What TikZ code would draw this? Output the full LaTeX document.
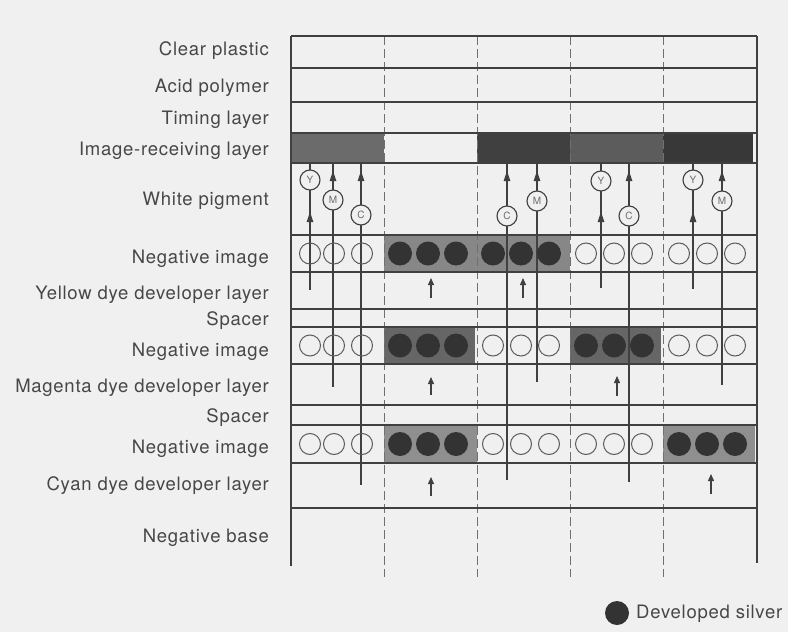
\documentclass[tikz,border=0pt]{standalone}
\usepackage{fontspec}
\setmainfont[LetterSpace=4]{TeX Gyre Heros}
\usetikzlibrary{arrows.meta}
\definecolor{paper}{gray}{0.94}
\definecolor{ink}{gray}{0.25}
\definecolor{txt}{gray}{0.28}
\definecolor{silvc}{gray}{0.2}
\definecolor{irlA}{gray}{0.42}
\definecolor{irlB}{gray}{0.25}
\definecolor{irlC}{gray}{0.36}
\definecolor{irlD}{gray}{0.22}
\definecolor{shA}{gray}{0.53}
\definecolor{shB}{gray}{0.40}
\definecolor{shC}{gray}{0.56}
\begin{document}
\begin{tikzpicture}[x=1pt,y=-1pt,
  lab/.style={anchor=base east, text=txt, font=\fontsize{18.5}{20}\selectfont, inner sep=0pt},
  layerline/.style={draw=ink, line width=1.1pt},
  coldiv/.style={draw=ink!75, line width=0.9pt, dash pattern=on 9pt off 4pt},
  hole/.style={circle, draw=ink!85, line width=1pt, minimum size=21pt, inner sep=0pt},
  silver/.style={circle, fill=silvc, minimum size=24pt, inner sep=0pt},
  dye/.style={circle, draw=ink, line width=1.1pt, fill=paper, minimum size=20pt, inner sep=0pt, text=txt!80, font=\fontsize{10}{10}\selectfont},
  mig/.style={draw=ink, line width=1.2pt},
  tipar/.style={-{Triangle[length=10pt,width=6.5pt]}, draw=ink, line width=1.2pt},
  smallar/.style={-{Triangle[length=7pt,width=6pt]}, draw=ink, line width=1.3pt},
]
\fill[paper] (0,0) rectangle (788,632);
\useasboundingbox (0,0) rectangle (788,632);

% labels
\node[lab] (l1) at (269,55) {Clear plastic};
\node[lab] (l2) at (269,92) {Acid polymer};
\node[lab] (l3) at (269,124) {Timing layer};
\node[lab] (l4) at (269,155) {Image-receiving layer};
\node[lab] (l5) at (269,205.5) {White pigment};
\node[lab] (l6) at (269,263) {Negative image};
\node[lab] (l7) at (269,299.5) {Yellow dye developer layer};
\node[lab] (l8) at (269,325) {Spacer};
\node[lab] (l9) at (269,356) {Negative image};
\node[lab] (l10) at (269,392) {Magenta dye developer layer};
\node[lab] (l11) at (269,422) {Spacer};
\node[lab] (l12) at (269,453) {Negative image};
\node[lab] (l13) at (269,490) {Cyan dye developer layer};
\node[lab] (l14) at (269,542) {Negative base};

% image-receiving layer fills
\fill[irlA] (291,133) rectangle (384,163);
\fill[irlB] (477,133) rectangle (570,163);
\fill[irlC] (570,133) rectangle (663,163);
\fill[irlD] (663,133) rectangle (753,163);

% negative image shading
\fill[shA] (384,235) rectangle (570,272);
\fill[shB] (384,327) rectangle (475,364);
\fill[shB] (570,327) rectangle (661,364);
\fill[shC] (384,425) rectangle (477,463);
\fill[shC] (663,425) rectangle (755,463);

% column dividers
\foreach \x in {384,477,570,663} \draw[coldiv] (\x,36) -- (\x,577);

% layer boundaries
\foreach \y in {36,68,102,133,163,235,272,309,327,364,405,425,463,508}
  \draw[layerline] (291,\y) -- (757,\y);
\draw[layerline] (291,36) -- (291,566);
\draw[layerline] (757,36) -- (757,563);

% migration lines (drawn before circles)
\foreach \x/\cy/\ey in {333/200/387, 361/215/485, 507/216/480, 537/201/382, 629/216/482, 722/201/385} {
  \draw[mig] (\x,163) -- (\x,\ey);
  \draw[tipar] (\x,184) -- (\x,171);
}
\foreach \x/\ey in {310/290, 601/288, 693/289} {
  \draw[mig] (\x,163) -- (\x,\ey);
  \draw[tipar] (\x,226) -- (\x,212);
}

% dye molecules
\node[dye] (y1) at (310,180) {Y};
\node[dye] (m1) at (333,200) {M};
\node[dye] (c1) at (361,215) {C};
\node[dye] (c3) at (507,216) {C};
\node[dye] (m3) at (537,201) {M};
\node[dye] (y4) at (601,181) {Y};
\node[dye] (c4) at (629,216) {C};
\node[dye] (y5) at (693,180) {Y};
\node[dye] (m5) at (722,201) {M};

% negative image grains
\foreach \r/\yy/\fa/\fb in {1/253.5/2/3, 2/345.5/2/4, 3/444/2/5} {
  \foreach \c/\xl in {1/291,2/384,3/477,4/570,5/663} {
    \foreach \k/\dx in {1/16,2/44,3/72} {
      \pgfmathsetmacro{\xx}{\c==1 ? (\k==1 ? 310 : (\k==2 ? 334 : 362)) : \xl+\dx}
      \pgfmathtruncatemacro{\isf}{(\c==\fa) || (\c==\fb) ? 1 : 0}
      \ifnum\isf=1
        \node[silver] (g-\r-\c-\k) at (\xx,\yy) {};
      \else
        \node[hole] (g-\r-\c-\k) at (\xx,\yy) {};
      \fi
    }
  }
}

% small arrows in dye developer layers
\coordinate (a1s) at (431,298); \coordinate (a1e) at (431,278);
\coordinate (a2s) at (523,298); \coordinate (a2e) at (523,278);
\coordinate (a3s) at (431,395); \coordinate (a3e) at (431,377);
\coordinate (a4s) at (617,396); \coordinate (a4e) at (617,376);
\coordinate (a5s) at (431,496); \coordinate (a5e) at (431,477);
\coordinate (a6s) at (711,494); \coordinate (a6e) at (711,474);
\foreach \i in {1,...,6} \draw[smallar] (a\i s) -- (a\i e);

% legend
\node[silver] (leg) at (617,613) {};
\node[lab, anchor=base west] (legt) at (636,618.5) {Developed silver};
\end{tikzpicture}
\end{document}
